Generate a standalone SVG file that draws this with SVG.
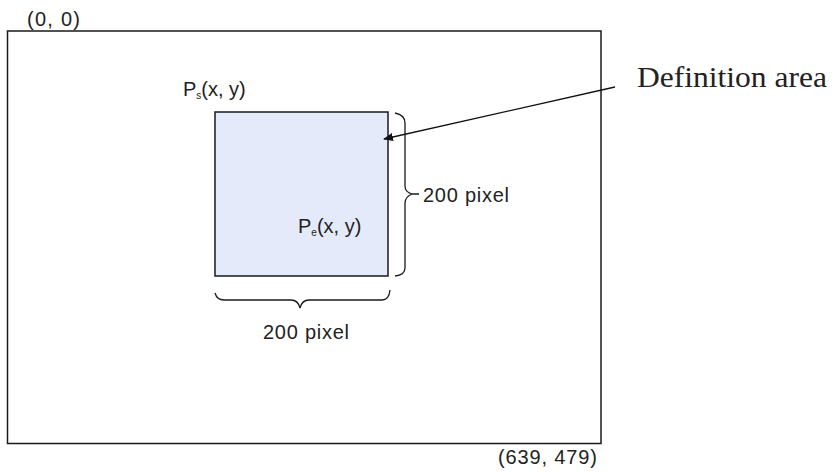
<svg xmlns="http://www.w3.org/2000/svg" width="836" height="475" viewBox="0 0 836 475">
<style>
.lbl{font-family:"Liberation Sans",Arial,sans-serif;font-size:20px;fill:#222}
.sub{font-size:10px}
.ln{fill:none;stroke:#1a1a1a;stroke-width:1.5}
.br{fill:none;stroke:#1a1a1a;stroke-width:1.3}
</style>
<defs>
<marker id="ah" markerWidth="10" markerHeight="8" refX="9" refY="4" orient="auto" markerUnits="userSpaceOnUse">
<path d="M0,0 L10,4 L0,8 Z" fill="#111"/>
</marker>
</defs>
<rect width="836" height="475" fill="#fff"/>
<g id="screen">
<rect class="ln" x="7.5" y="31" width="593.5" height="412.5"/>
<text class="lbl" x="27" y="26" textLength="53">(0, 0)</text>
<text class="lbl" x="498" y="464" textLength="99">(639, 479)</text>
</g>
<g id="area">
<rect x="215" y="112" width="173" height="164" fill="#e5eafb" stroke="#1a1a1a" stroke-width="1.5"/>
<text class="lbl" x="183" y="96">P<tspan class="sub" dy="3">s</tspan><tspan dy="-3">(x, y)</tspan></text>
<text class="lbl" x="298" y="233">P<tspan class="sub" dy="3">e</tspan><tspan dy="-3">(x, y)</tspan></text>
</g>
<g id="brace-v">
<path class="br" d="M395,113 Q405,115 405,123 L405,186 Q405,192 412,194 Q405,197 405,203 L405,268 Q405,275 395,276 M412,194 L419,194"/>
<text class="lbl" x="423" y="202" textLength="86">200 pixel</text>
</g>
<g id="brace-h">
<path class="br" d="M215,293 Q217,300 224,300 L291,300 Q298,300 300,308 Q302,300 309,300 L382,300 Q389,300 390,290"/>
<text class="lbl" x="263" y="339" textLength="86">200 pixel</text>
</g>
<g id="label">
<text x="637" y="87" font-family="Liberation Serif,Times New Roman,serif" font-size="30" fill="#222" textLength="190" lengthAdjust="spacingAndGlyphs">Definition area</text>
</g>
<g id="connectors">
<line x1="615" y1="87" x2="384" y2="139" stroke="#111" stroke-width="1.3" marker-end="url(#ah)"/>
</g>
</svg>
